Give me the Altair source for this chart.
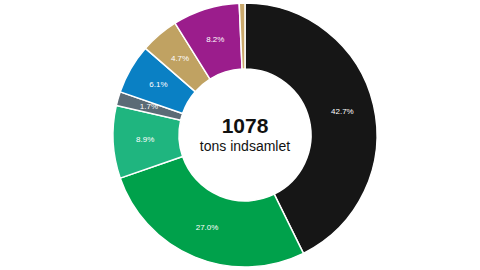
import altair as alt
import pandas as pd

categories = ["A", "B", "C", "D", "E", "F", "G", "H"]
shares = [42.7, 27.0, 8.9, 1.7, 6.1, 4.7, 8.2, 0.7]
colors = ["#161616", "#00a14b", "#1fb57f", "#5b6b76", "#0a80c4", "#c0a262", "#9b1d8c", "#c9a86b"]
labels = ["42.7%", "27.0%", "8.9%", "1.7%", "6.1%", "4.7%", "8.2%", ""]
total = "1078"
subtitle = "tons indsamlet"

df = pd.DataFrame({"cat": categories, "share": shares, "label": labels, "order": list(range(len(categories)))})

CX, CY = 245, 135

base = alt.Chart(df).encode(
    theta=alt.Theta("share:Q", stack=True),
    order=alt.Order("order:Q"),
    x=alt.value(CX), y=alt.value(CY),
)

arcs = base.mark_arc(outerRadius=132, innerRadius=66, stroke="white", strokeWidth=1.5).encode(
    color=alt.Color("cat:N", scale=alt.Scale(domain=categories, range=colors), legend=None)
)

text = base.mark_text(radius=100, color="white", fontSize=8, font="Liberation Sans").encode(
    text="label:N"
)

center = pd.DataFrame({"t": [total, subtitle], "dy": [0, 1]})
big = alt.Chart(pd.DataFrame({"t": [total]})).mark_text(
    fontSize=21, fontWeight="bold", font="Liberation Sans", color="#111"
).encode(text="t:N", x=alt.value(CX), y=alt.value(CY - 8))
small = alt.Chart(pd.DataFrame({"t": [subtitle]})).mark_text(
    fontSize=14, font="Liberation Sans", color="#111"
).encode(text="t:N", x=alt.value(CX), y=alt.value(CY + 12))

chart = alt.layer(arcs, text, big, small).properties(
    width=480, height=270, padding=0, autosize=alt.AutoSizeParams(type="none")
).configure_view(stroke=None)

chart.save("out.html", embed_options={"renderer": "svg", "actions": False})
